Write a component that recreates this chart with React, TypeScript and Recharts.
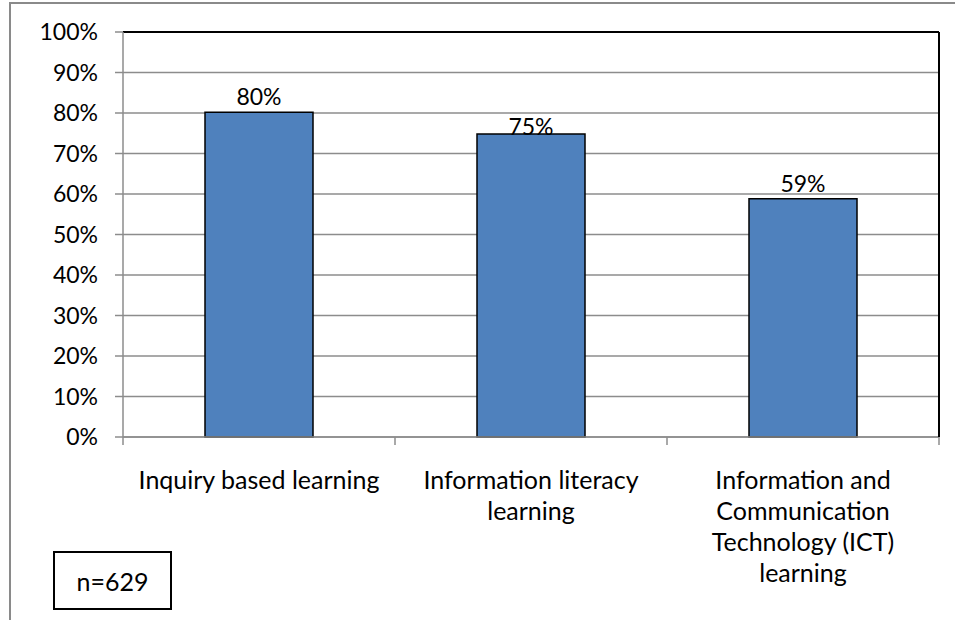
import React from "react";
import { BarChart, Bar, XAxis, YAxis, CartesianGrid, LabelList, ReferenceLine } from "recharts";

const categories = [
  "Inquiry based learning",
  "Information literacy\nlearning",
  "Information and\nCommunication\nTechnology (ICT)\nlearning",
];
const values = [0.802, 0.748, 0.588];
const valueLabels = ["80%", "75%", "59%"];
const yTicks = [0, 0.1, 0.2, 0.3, 0.4, 0.5, 0.6, 0.7, 0.8, 0.9, 1.0];
const sampleNote = "n=629";

const LABEL_NUDGE = [0, 8, 0];
const FONT = "Lato, 'Open Sans', sans-serif";
const FS_CAT = 25;
const FS = 23;
const GRID = "#8c8c8c";

const data = categories.map((c, i) => ({ name: c, value: values[i], label: valueLabels[i] }));

const XTick = (props: any) => {
  const { x, y, payload, index } = props;
  const lines = String(payload.value).split("\n");
  const half = payload.offset || 0;
  const isLast = index === categories.length - 1;
  return (
    <g>
      <line x1={x - half} x2={x - half} y1={y - 8} y2={y} stroke={GRID} strokeWidth={1.5} />
      {isLast && <line x1={x + half} x2={x + half} y1={y - 8} y2={y} stroke={GRID} strokeWidth={1.5} />}
      {lines.map((ln: string, i: number) => (
        <text
          key={i}
          x={x}
          y={y + 44 + i * 31}
          textAnchor="middle"
          fontFamily={FONT}
          fontSize={FS_CAT}
          fill="#000"
        >
          {ln}
        </text>
      ))}
    </g>
  );
};

const ValueLabel = (props: any) => {
  const { x, y, width, index, value } = props;
  return (
    <text
      x={x + width / 2}
      y={y - 7 + LABEL_NUDGE[index]}
      textAnchor="middle"
      fontFamily={FONT}
      fontSize={FS}
      fill="#000"
    >
      {value}
    </text>
  );
};

export default function App() {
  return (
    <div style={{ position: "absolute", left: 0, top: 0, width: 955, height: 620, background: "#fff", overflow: "hidden" }}>
      <div
        style={{
          position: "absolute",
          left: 9,
          top: 2,
          width: 960,
          height: 630,
          borderLeft: "2px solid #8a8a8a",
          borderTop: "2px solid #8a8a8a",
        }}
      />
      <BarChart
        width={955}
        height={620}
        data={data}
        margin={{ top: 32, right: 0, left: 0, bottom: 0 }}
        style={{ position: "absolute", left: 0, top: 0 }}
      >
        <CartesianGrid horizontal vertical={false} stroke={GRID} strokeWidth={1.5} />
        <XAxis
          dataKey="name"
          height={183}
          interval={0}
          tick={<XTick />}
          tickSize={8}
          tickMargin={0}
          tickLine={false}
          axisLine={{ stroke: GRID, strokeWidth: 1.5 }}
        />
        <YAxis
          width={123}
          domain={[0, 1]}
          ticks={yTicks}
          interval={0}
          tickFormatter={(v: number) => `${Math.round(v * 100)}%`}
          tick={{ fontFamily: FONT, fontSize: FS, fill: "#000" }}
          tickSize={8}
          tickMargin={17}
          tickLine={{ stroke: GRID, strokeWidth: 1.5 }}
          axisLine={{ stroke: GRID, strokeWidth: 1.5 }}
        />
        <YAxis
          yAxisId="r"
          orientation="right"
          width={16}
          domain={[0, 1]}
          tick={false}
          tickLine={false}
          axisLine={{ stroke: "#000", strokeWidth: 2 }}
        />
        <ReferenceLine y={1} stroke="#000" strokeWidth={2} />
        <Bar
          dataKey="value"
          fill="#4F81BD"
          stroke="#000"
          strokeWidth={1.5}
          barSize={108}
          isAnimationActive={false}
        >
          <LabelList dataKey="label" content={<ValueLabel />} />
        </Bar>
      </BarChart>
      <div
        style={{
          position: "absolute",
          left: 53,
          top: 551,
          width: 115,
          height: 55,
          border: "2px solid #000",
          display: "flex",
          alignItems: "center",
          justifyContent: "center",
          fontFamily: FONT,
          fontSize: 25,
          color: "#000",
        }}
      >
        {sampleNote}
      </div>
    </div>
  );
}
